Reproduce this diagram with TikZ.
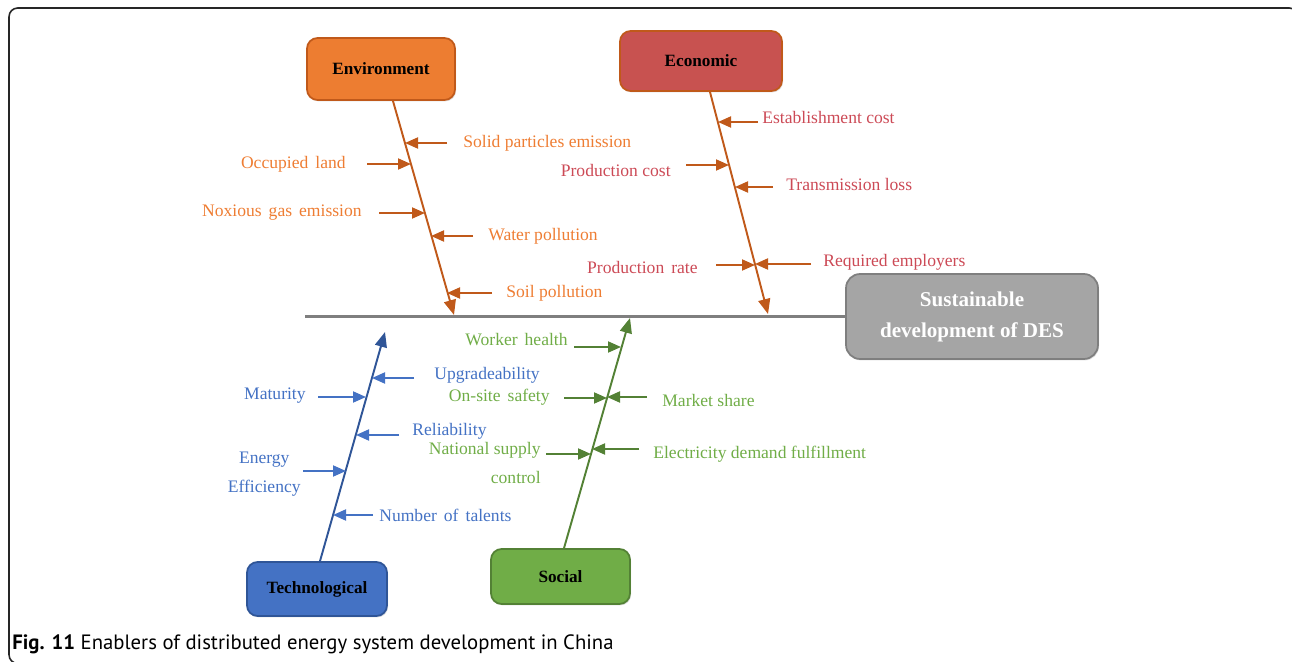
\documentclass[tikz,border=0pt]{standalone}
\usepackage{fontspec}
\setmainfont{Liberation Serif}
\newfontfamily\capfont{PT Sans}
\usepackage{tikz}
\usetikzlibrary{arrows.meta, calc, positioning, shadows}
\definecolor{envfill}{HTML}{ED7D31}
\definecolor{envline}{HTML}{C0591A}
\definecolor{envtext}{HTML}{EE7D33}
\definecolor{ecofill}{HTML}{C85250}
\definecolor{ecotext}{HTML}{CC4A56}
\definecolor{tecfill}{HTML}{4472C4}
\definecolor{tecline}{HTML}{2F5597}
\definecolor{socfill}{HTML}{70AD47}
\definecolor{socline}{HTML}{538135}
\definecolor{desfill}{HTML}{A5A5A5}
\definecolor{desline}{HTML}{7F7F7F}
\newcommand{\widesp}{\hspace{4pt}}
\tikzset{
    catbox/.style={rectangle, rounded corners=6pt, line width=1pt, align=center,
        font=\fontsize{9.8}{11}\selectfont\bfseries, inner sep=0pt,
        drop shadow={shadow xshift=0.6pt, shadow yshift=-0.8pt, opacity=0.25}},
    bone/.style={-{Triangle[length=3mm, width=2.4mm]}, line width=1.1pt},
    sub/.style={-{Triangle[length=2.6mm, width=2.2mm]}, line width=1.1pt},
    lbl/.style={inner sep=0pt, font=\fontsize{10}{16.5}\selectfont},
}

\begin{document}
\begin{tikzpicture}[x=0.02cm, y=-0.02cm]
    \useasboundingbox (0,0) rectangle (1292,662);
    \draw[black!85, line width=0.9pt, rounded corners=5pt] (9,8) rectangle (1298,663.5);

    % category boxes
    \node[catbox, fill=envfill, draw=envline, minimum width=2.96cm, minimum height=1.24cm] (env) at (381,69) {Environment};
    \node[catbox, fill=ecofill, draw=envline, minimum width=3.24cm, minimum height=1.2cm] (eco) at (701,61) {Economic};
    \node[catbox, fill=tecfill, draw=tecline, minimum width=2.8cm, minimum height=1.08cm] (tec) at (317,589) {Technological};
    \node[catbox, fill=socfill, draw=socline, minimum width=2.78cm, minimum height=1.1cm] (soc) at (560.5,576.5) {Social};
    \node[catbox, fill=desfill, draw=desline, text=white, rounded corners=8pt, minimum width=5.04cm, minimum height=1.7cm,
        font=\fontsize{12}{17.6}\selectfont\bfseries] (des) at (972,316.5) {Sustainable\\development of DES};

    % spine and bones
    \coordinate (tail) at (305,316.5);
    \draw[desline, line width=1.3pt] (tail) -- (des.west);
    \coordinate (envtip) at (454,315);
    \coordinate (ecotip) at (768,314);
    \coordinate (tectip) at (385,332);
    \coordinate (soctip) at (630,318);
    \draw[bone, envline] ([xshift=6.8pt]env.south) -- (envtip);
    \draw[bone, envline] ([xshift=5.1pt]eco.south) -- (ecotip);
    \draw[bone, tecline] ([xshift=1.7pt]tec.north) -- (tectip);
    \draw[bone, socline] ([xshift=2pt]soc.north) -- (soctip);

    % environment
    \coordinate (e1) at (405,143);
    \coordinate (e2) at (411,164);
    \coordinate (e3) at (425,213);
    \coordinate (e4) at (431,236);
    \coordinate (e5) at (447,293);
    \node[lbl, envtext, anchor=west] (solid) at (463,143) {Solid particles emission};
    \node[lbl, envtext, anchor=east] (land) at (346,164) {Occupied\widesp land};
    \node[lbl, envtext, anchor=east] (gas) at (362,213) {Noxious\widesp gas\widesp emission};
    \node[lbl, envtext, anchor=west] (water) at (488,236) {Water pollution};
    \node[lbl, envtext, anchor=west] (soil) at (506,293) {Soil pollution};
    \draw[sub, envline] (solid.west |- e1) ++(-16,0) -- (e1);
    \draw[sub, envline] (land.east |- e2) ++(21,0) -- (e2);
    \draw[sub, envline] (gas.east |- e3) ++(17,0) -- (e3);
    \draw[sub, envline] (water.west |- e4) ++(-15,0) -- (e4);
    \draw[sub, envline] (soil.west |- e5) ++(-14,0) -- (e5);

    % economic
    \coordinate (c1) at (718,122);
    \coordinate (c2) at (729,165);
    \coordinate (c3) at (735,187);
    \coordinate (c4) at (755,265);
    \coordinate (c5) at (755,264);
    \node[lbl, ecotext, anchor=west] (setup) at (762,117) {Establishment cost};
    \node[lbl, ecotext, anchor=east] (pcost) at (671,170) {Production cost};
    \node[lbl, ecotext, anchor=west] (loss) at (786,184) {Transmission loss};
    \node[lbl, ecotext, anchor=east] (prate) at (698,267) {Production\widesp rate};
    \node[lbl, ecotext, anchor=west] (staff) at (823,262) {Required employers};
    \draw[sub, envline] (setup.west |- c1) ++(-4,0) -- (c1);
    \draw[sub, envline] (pcost.east |- c2) ++(15,0) -- (c2);
    \draw[sub, envline] (loss.west |- c3) ++(-13,0) -- (c3);
    \draw[sub, envline] (prate.east |- c4) ++(18,0) -- (c4);
    \draw[sub, envline] (staff.west |- c5) ++(-12,0) -- (c5);

    % technological
    \coordinate (t1) at (372,378);
    \coordinate (t2) at (366,397);
    \coordinate (t3) at (356,435);
    \coordinate (t4) at (346,471);
    \coordinate (t5) at (333,515);
    \node[lbl, tecfill, anchor=west] (upgr) at (434,375) {Upgradeability};
    \node[lbl, tecfill, anchor=east] (mature) at (306,396) {Maturity};
    \node[lbl, tecfill, anchor=west] (rely) at (412,431) {Reliability};
    \node[lbl, tecfill, anchor=east, align=center] (effic) at (301,474) {Energy\\Efficiency};
    \node[lbl, tecfill, anchor=west] (talent) at (379,515) {Number\widesp of\widesp talents};
    \draw[sub, tecfill] (upgr.west |- t1) ++(-20,0) -- (t1);
    \draw[sub, tecfill] (mature.east |- t2) ++(12,0) -- (t2);
    \draw[sub, tecfill] (rely.west |- t3) ++(-13,0) -- (t3);
    \draw[sub, tecfill] (effic.east |- t4) ++(2,0) -- (t4);
    \draw[sub, tecfill] (talent.west |- t5) ++(-6,0) -- (t5);

    % social
    \coordinate (s1) at (621,347);
    \coordinate (s2) at (607,398);
    \coordinate (s3) at (607,397);
    \coordinate (s4) at (591,454);
    \coordinate (s5) at (592,449);
    \node[lbl, socfill, anchor=east] (health) at (568,340) {Worker\widesp health};
    \node[lbl, socfill, anchor=east] (safety) at (550,397) {On-site\widesp safety};
    \node[lbl, socfill, anchor=west] (market) at (662,400) {Market share};
    \node[lbl, socfill, anchor=east, align=right] (supply) at (541,463) {National supply\\control};
    \node[lbl, socfill, anchor=west] (demand) at (653,454) {Electricity demand fulfillment};
    \draw[sub, socline] (health.east |- s1) ++(6,0) -- (s1);
    \draw[sub, socline] (safety.east |- s2) ++(14,0) -- (s2);
    \draw[sub, socline] (market.west |- s3) ++(-15,0) -- (s3);
    \draw[sub, socline] (supply.east |- s4) ++(5,0) -- (s4);
    \draw[sub, socline] (demand.west |- s5) ++(-14,0) -- (s5);

    % caption
    \node[anchor=west, inner sep=0pt, font=\capfont\fontsize{11.8}{13}\selectfont] (cap) at (12,644)
        {\textbf{Fig. 11} Enablers of distributed energy system development in China};
\end{tikzpicture}
\end{document}
